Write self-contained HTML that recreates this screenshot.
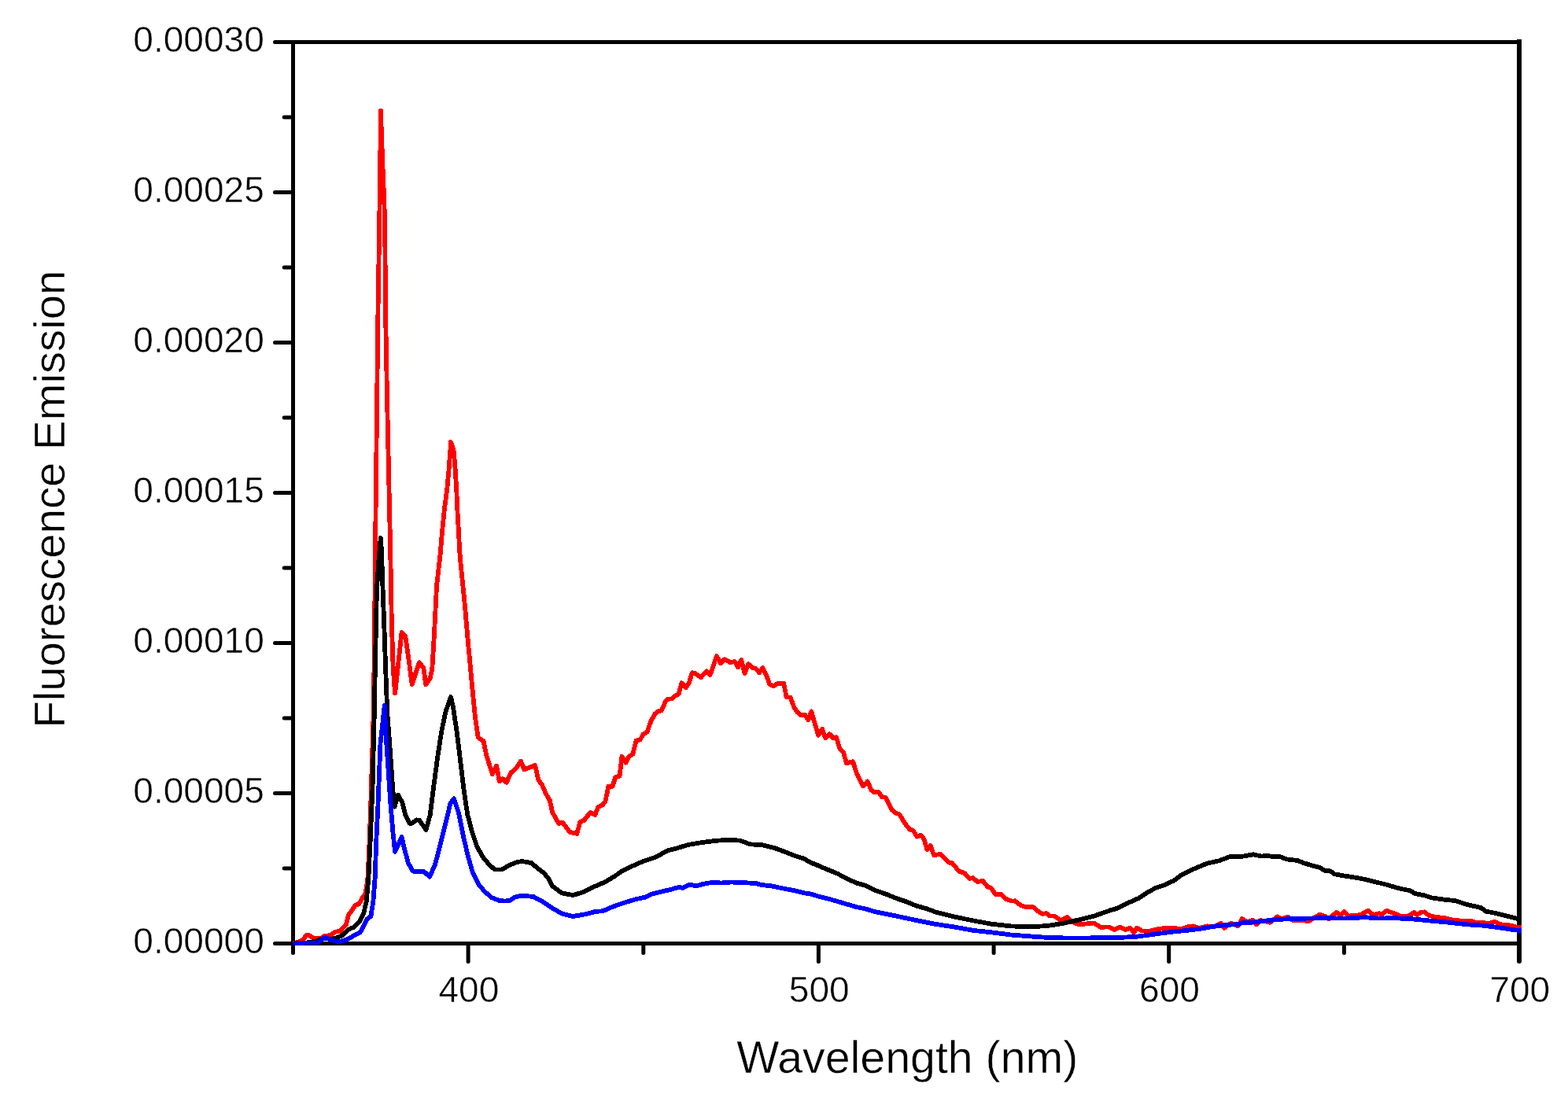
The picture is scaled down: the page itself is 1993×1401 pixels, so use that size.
<!DOCTYPE html>
<html lang="en"><head><meta charset="utf-8"><title>Fluorescence Emission vs Wavelength</title>
<style>
html,body{margin:0;padding:0;background:#fff;}
body{width:1993px;height:1401px;overflow:hidden;}
svg{display:block;}
text{font-family:"Liberation Sans",sans-serif;fill:#000;}
text{stroke:#fff;stroke-width:0.5px;}
.tl{font-size:47px;}
.ax{font-size:57px;}
</style></head><body>
<svg width="1993" height="1401" viewBox="0 0 1993 1401">
<rect x="0" y="0" width="1993" height="1401" fill="#ffffff"/>
<g stroke="#000" stroke-width="5.0" fill="none" stroke-linecap="round" stroke-linejoin="miter">
<rect x="372.5" y="53.5" width="1558.5" height="1146.0"/>
<path stroke-width="6" stroke-linecap="butt" d="M1931.0 50.0 V1199.5"/>
<path stroke-width="6" d="M1931.0 1199.5 V1222.0"/>
<path d="M372.5 1199.5 V1211.5"/>
<path d="M349.5 1199.5 H372.5"/>
<path d="M361.2 1104.0 H372.5"/>
<path d="M349.5 1008.5 H372.5"/>
<path d="M361.2 913.0 H372.5"/>
<path d="M349.5 817.5 H372.5"/>
<path d="M361.2 722.0 H372.5"/>
<path d="M349.5 626.5 H372.5"/>
<path d="M361.2 531.0 H372.5"/>
<path d="M349.5 435.5 H372.5"/>
<path d="M361.2 340.0 H372.5"/>
<path d="M349.5 244.5 H372.5"/>
<path d="M361.2 149.0 H372.5"/>
<path d="M349.5 53.5 H372.5"/>
<path d="M595.1 1199.5 V1222.5"/>
<path d="M817.8 1199.5 V1211.5"/>
<path d="M1040.4 1199.5 V1222.5"/>
<path d="M1263.1 1199.5 V1211.5"/>
<path d="M1485.7 1199.5 V1222.5"/>
<path d="M1708.4 1199.5 V1211.5"/>
</g>
<g fill="none" stroke-width="5.8" stroke-linejoin="round" stroke-linecap="butt" shape-rendering="crispEdges">
<path stroke="#ff0000" d="M373.0 1199.5 L380.0 1197.5 L385.0 1195.0 L389.0 1189.3 L393.0 1189.3 L399.0 1193.0 L407.5 1193.0 L412.5 1190.0 L420.2 1189.0 L426.2 1184.6 L432.3 1183.9 L439.8 1175.6 L442.8 1163.5 L447.3 1157.5 L451.8 1150.7 L456.3 1149.2 L460.9 1141.0 L463.9 1138.0 L466.3 1125.0 L467.5 1115.0 L469.6 1070.0 L471.2 1025.0 L474.8 905.0 L476.1 800.0 L477.0 700.0 L479.2 505.0 L480.5 393.0 L482.0 300.0 L482.7 246.0 L483.5 185.0 L484.0 141.0 L484.5 158.0 L485.4 184.0 L486.4 210.0 L487.5 236.0 L488.5 262.0 L489.2 290.0 L490.2 405.0 L492.0 505.0 L496.2 700.0 L497.8 790.0 L499.7 850.0 L502.1 881.4 L510.6 803.9 L515.2 808.5 L519.2 836.0 L523.7 870.1 L532.9 842.3 L538.3 849.0 L541.2 870.1 L546.5 863.0 L549.3 850.5 L552.0 805.4 L555.0 745.2 L559.6 705.0 L562.1 675.0 L564.7 649.0 L568.1 623.5 L570.5 597.8 L572.4 572.0 L573.0 562.0 L576.5 572.0 L578.8 597.8 L580.3 623.5 L581.4 649.0 L582.9 675.0 L584.2 700.7 L585.9 720.0 L590.0 760.2 L595.3 820.4 L600.9 880.6 L603.8 910.0 L607.7 937.6 L614.5 942.1 L618.3 960.2 L625.8 984.3 L631.1 973.8 L634.8 993.3 L639.3 990.3 L643.9 994.8 L649.1 982.8 L655.9 976.8 L661.9 967.7 L666.4 978.3 L672.5 976.0 L680.0 973.0 L684.5 991.8 L689.0 997.8 L693.5 1008.4 L698.8 1017.4 L702.2 1032.8 L710.2 1046.9 L715.2 1045.9 L724.3 1057.9 L733.3 1059.9 L737.3 1044.9 L742.3 1042.9 L750.4 1032.8 L756.4 1035.8 L760.4 1025.8 L765.4 1023.8 L769.4 1018.8 L773.4 999.7 L778.4 999.7 L782.5 987.7 L787.5 986.7 L790.5 961.6 L795.5 969.6 L799.5 961.6 L804.5 958.6 L808.6 941.5 L813.6 940.5 L817.6 933.5 L822.6 930.5 L827.6 916.4 L832.6 907.4 L836.7 904.4 L840.7 903.4 L845.7 892.3 L848.7 888.9 L853.7 888.3 L858.7 884.3 L862.7 882.3 L866.4 868.2 L871.8 874.3 L875.8 868.2 L879.8 855.2 L883.8 856.2 L890.8 861.2 L897.9 853.2 L902.5 858.2 L906.9 846.2 L910.9 834.1 L915.9 843.2 L921.0 838.1 L928.0 842.1 L934.0 841.1 L938.0 848.2 L942.4 839.1 L946.6 856.2 L951.1 844.2 L957.1 849.2 L960.7 849.8 L965.1 855.2 L969.5 849.2 L974.1 858.2 L978.2 870.2 L983.2 872.3 L988.2 869.2 L996.2 868.8 L999.6 886.3 L1004.8 886.7 L1009.3 899.3 L1013.3 905.4 L1018.3 909.4 L1022.9 908.4 L1027.3 915.4 L1031.3 904.4 L1035.3 918.4 L1040.2 934.8 L1045.1 927.0 L1049.2 938.3 L1054.1 933.2 L1059.1 938.2 L1063.1 937.2 L1067.1 951.2 L1072.1 956.3 L1075.8 970.3 L1084.2 968.3 L1089.2 984.4 L1097.2 999.4 L1102.7 993.4 L1107.3 1004.4 L1111.3 1007.4 L1116.3 1006.4 L1121.3 1013.5 L1125.3 1013.5 L1133.4 1029.5 L1138.4 1033.5 L1143.4 1035.5 L1151.4 1048.6 L1156.4 1054.6 L1160.5 1055.6 L1165.5 1063.6 L1170.5 1061.6 L1174.5 1066.7 L1178.3 1080.0 L1182.7 1075.0 L1187.2 1087.4 L1195.6 1085.7 L1205.6 1096.5 L1210.0 1097.0 L1219.0 1107.7 L1226.0 1110.0 L1232.2 1117.0 L1236.7 1116.0 L1242.2 1121.0 L1249.2 1120.0 L1255.3 1127.5 L1259.3 1128.5 L1265.3 1137.0 L1272.3 1137.0 L1277.9 1142.6 L1286.0 1145.6 L1290.0 1145.3 L1297.4 1151.0 L1304.0 1153.0 L1313.0 1153.0 L1318.5 1158.0 L1325.0 1162.0 L1330.0 1161.0 L1334.0 1164.4 L1340.1 1164.4 L1348.1 1170.0 L1356.1 1166.0 L1363.1 1172.0 L1371.2 1175.4 L1381.2 1174.4 L1390.2 1173.4 L1399.3 1178.8 L1409.3 1178.4 L1416.3 1182.0 L1421.5 1179.5 L1423.8 1178.9 L1430.5 1181.9 L1436.6 1179.7 L1441.1 1185.7 L1444.8 1179.7 L1451.6 1183.4 L1462.1 1183.4 L1471.2 1181.2 L1481.7 1179.7 L1490.8 1179.7 L1501.3 1181.2 L1510.3 1178.2 L1516.3 1177.4 L1524.0 1180.0 L1534.4 1177.4 L1543.0 1178.0 L1551.7 1173.7 L1556.2 1179.7 L1564.5 1173.7 L1573.5 1177.4 L1578.8 1168.1 L1585.6 1172.1 L1592.4 1169.6 L1596.9 1175.2 L1602.1 1169.9 L1614.2 1172.9 L1623.2 1165.4 L1629.2 1168.4 L1636.8 1165.7 L1642.8 1169.9 L1651.8 1169.9 L1663.9 1171.1 L1669.9 1166.9 L1677.4 1162.7 L1683.4 1164.6 L1689.5 1168.4 L1698.4 1159.8 L1703.6 1163.5 L1708.5 1158.8 L1714.2 1164.6 L1729.1 1163.1 L1738.9 1157.8 L1745.7 1163.1 L1753.2 1161.2 L1756.2 1163.1 L1762.3 1157.8 L1771.3 1160.9 L1780.3 1164.6 L1789.4 1164.6 L1797.6 1160.1 L1801.4 1163.1 L1805.9 1159.8 L1810.4 1159.4 L1816.4 1163.9 L1825.5 1166.1 L1836.0 1166.9 L1843.5 1169.1 L1863.1 1171.4 L1868.4 1170.6 L1875.2 1172.6 L1893.2 1173.7 L1900.0 1171.7 L1906.8 1175.2 L1921.8 1176.7 L1927.0 1178.6 L1934.0 1178.9"/>
<path stroke="#000000" d="M373.0 1199.5 L390.0 1198.5 L402.5 1196.5 L407.5 1194.0 L413.0 1192.5 L420.0 1194.0 L426.2 1192.9 L435.3 1189.1 L442.8 1181.6 L450.3 1178.6 L456.3 1172.6 L462.4 1160.5 L465.8 1145.5 L468.4 1115.4 L470.6 1070.2 L472.4 1025.0 L473.3 1010.0 L475.7 910.0 L477.0 840.0 L478.9 750.0 L481.5 711.0 L483.8 684.0 L484.9 698.6 L486.6 750.0 L488.5 801.0 L489.8 840.0 L492.2 905.0 L496.3 960.2 L499.4 1005.4 L501.6 1025.7 L505.9 1010.5 L511.4 1020.4 L515.2 1035.5 L520.4 1046.8 L523.4 1046.8 L529.5 1042.3 L533.2 1043.0 L541.5 1055.0 L546.8 1035.5 L550.5 1005.4 L556.3 962.0 L561.0 931.0 L566.5 904.5 L573.1 886.0 L576.1 900.0 L580.6 930.1 L585.2 967.7 L589.7 1005.4 L594.2 1035.5 L600.2 1058.1 L606.2 1076.1 L613.8 1089.7 L621.3 1098.7 L628.8 1105.5 L637.8 1105.5 L646.9 1100.2 L655.9 1096.4 L663.4 1094.9 L675.5 1097.2 L684.2 1104.5 L692.0 1110.5 L698.2 1118.5 L702.2 1126.5 L714.3 1135.5 L728.3 1138.0 L740.4 1134.5 L752.4 1128.5 L768.5 1121.5 L780.5 1114.5 L790.5 1107.4 L800.6 1102.4 L816.6 1095.4 L832.7 1090.0 L848.7 1081.4 L860.8 1078.3 L874.8 1073.9 L890.9 1071.3 L908.9 1068.9 L927.0 1067.7 L941.1 1068.7 L953.1 1073.3 L969.2 1074.3 L985.2 1078.3 L1001.3 1084.4 L1011.3 1088.4 L1021.3 1091.4 L1030.0 1096.4 L1040.0 1100.4 L1050.1 1104.8 L1064.1 1110.5 L1076.2 1116.8 L1088.2 1122.5 L1099.2 1125.5 L1112.3 1131.8 L1128.3 1137.5 L1140.4 1142.5 L1152.4 1146.5 L1164.4 1151.5 L1178.5 1155.5 L1188.5 1159.3 L1212.6 1165.4 L1236.7 1170.4 L1260.8 1174.8 L1284.9 1177.4 L1310.9 1178.4 L1331.0 1177.0 L1351.1 1174.0 L1371.2 1169.4 L1391.2 1164.4 L1411.3 1157.3 L1420.0 1154.8 L1435.1 1147.3 L1447.1 1142.0 L1456.1 1136.0 L1468.2 1129.2 L1480.2 1125.0 L1492.3 1119.5 L1501.3 1112.7 L1516.3 1105.2 L1534.4 1097.6 L1549.5 1094.3 L1564.5 1088.6 L1575.0 1089.4 L1593.1 1086.3 L1603.6 1088.6 L1611.2 1087.8 L1618.7 1089.4 L1626.2 1088.9 L1635.3 1092.4 L1648.8 1093.9 L1656.3 1096.9 L1668.4 1100.6 L1677.4 1102.9 L1683.4 1106.7 L1691.0 1107.4 L1696.0 1111.2 L1708.1 1113.4 L1723.1 1115.7 L1735.2 1118.0 L1750.2 1121.7 L1762.3 1124.7 L1777.3 1129.2 L1792.4 1132.3 L1798.4 1136.0 L1810.4 1138.3 L1819.5 1141.3 L1834.5 1143.5 L1849.6 1145.1 L1863.1 1149.6 L1882.7 1154.1 L1888.7 1158.6 L1900.8 1160.9 L1912.8 1163.9 L1921.8 1166.1 L1931.0 1168.6"/>
<path stroke="#0000ff" d="M373.0 1199.5 L382.0 1199.3 L386.0 1198.5 L404.0 1198.5 L408.0 1195.5 L411.0 1193.0 L414.0 1192.0 L417.0 1193.0 L420.2 1195.0 L430.8 1197.4 L441.3 1194.4 L450.3 1189.1 L457.8 1185.4 L463.9 1174.1 L466.9 1168.1 L471.4 1165.0 L474.4 1145.5 L476.7 1115.4 L478.2 1070.2 L480.4 1025.1 L483.5 945.2 L488.8 897.0 L490.3 930.1 L493.3 975.3 L496.3 1020.4 L499.4 1058.0 L502.1 1082.9 L510.6 1064.1 L514.4 1080.6 L518.9 1097.2 L524.9 1107.7 L538.5 1107.7 L545.9 1114.6 L552.7 1100.3 L558.7 1077.7 L566.2 1047.6 L572.3 1022.0 L576.8 1015.3 L582.8 1032.6 L588.8 1062.7 L594.8 1088.3 L600.9 1109.4 L608.4 1124.4 L615.9 1133.4 L624.9 1141.0 L634.0 1144.7 L641.0 1145.6 L648.0 1145.0 L654.0 1140.6 L663.1 1138.6 L678.1 1140.0 L690.2 1146.6 L702.2 1154.6 L714.3 1161.6 L728.3 1165.0 L744.4 1162.2 L756.4 1159.0 L766.4 1158.2 L776.5 1153.6 L790.5 1148.6 L806.6 1143.6 L820.6 1140.6 L828.7 1136.5 L840.7 1133.5 L852.7 1130.9 L862.8 1127.9 L867.8 1128.9 L876.8 1124.5 L884.9 1126.5 L892.9 1124.1 L904.9 1121.9 L917.0 1122.5 L929.0 1121.5 L945.1 1122.1 L961.1 1123.1 L967.2 1124.9 L981.2 1126.5 L995.3 1129.5 L1011.3 1132.5 L1023.3 1135.5 L1030.0 1136.5 L1042.0 1140.0 L1054.1 1143.0 L1064.1 1145.9 L1088.2 1153.0 L1100.2 1155.5 L1112.3 1159.2 L1140.4 1164.8 L1164.4 1170.0 L1188.5 1174.8 L1212.6 1178.4 L1236.7 1182.8 L1260.8 1185.4 L1284.9 1188.5 L1310.9 1190.5 L1331.0 1191.9 L1355.1 1192.5 L1381.2 1192.5 L1411.3 1191.9 L1420.0 1192.0 L1442.6 1191.0 L1465.2 1188.0 L1487.7 1184.9 L1510.3 1182.7 L1528.4 1180.4 L1540.4 1178.2 L1558.5 1175.9 L1573.5 1175.2 L1579.6 1172.9 L1593.1 1172.6 L1608.2 1170.6 L1623.2 1169.1 L1638.3 1168.1 L1660.9 1167.6 L1683.4 1167.2 L1706.0 1167.6 L1712.6 1167.6 L1735.2 1166.1 L1750.2 1167.6 L1772.8 1167.2 L1795.4 1168.4 L1818.0 1170.6 L1840.5 1172.6 L1863.1 1175.2 L1885.7 1176.7 L1908.3 1179.7 L1926.0 1182.5 L1934.0 1183.0"/>
</g>
<text class="tl" transform="translate(335.8 1211.8) scale(0.98 1)" text-anchor="end">0.00000</text>
<text class="tl" transform="translate(335.8 1020.8) scale(0.98 1)" text-anchor="end">0.00005</text>
<text class="tl" transform="translate(335.8 829.8) scale(0.98 1)" text-anchor="end">0.00010</text>
<text class="tl" transform="translate(335.8 638.8) scale(0.98 1)" text-anchor="end">0.00015</text>
<text class="tl" transform="translate(335.8 447.8) scale(0.98 1)" text-anchor="end">0.00020</text>
<text class="tl" transform="translate(335.8 256.8) scale(0.98 1)" text-anchor="end">0.00025</text>
<text class="tl" transform="translate(335.8 65.8) scale(0.98 1)" text-anchor="end">0.00030</text>
<text class="tl" transform="translate(595.9 1273.6) scale(0.98 1)" text-anchor="middle">400</text>
<text class="tl" transform="translate(1041.2 1273.6) scale(0.98 1)" text-anchor="middle">500</text>
<text class="tl" transform="translate(1486.5 1273.6) scale(0.98 1)" text-anchor="middle">600</text>
<text class="tl" transform="translate(1931.8 1273.6) scale(0.98 1)" text-anchor="middle">700</text>
<text class="ax" style="font-size:57.3px" x="1153.3" y="1363.7" text-anchor="middle">Wavelength (nm)</text>
<text class="ax" style="font-size:56.3px" transform="translate(82.2 634.6) rotate(-90)" text-anchor="middle">Fluorescence Emission</text>
</svg></body></html>
